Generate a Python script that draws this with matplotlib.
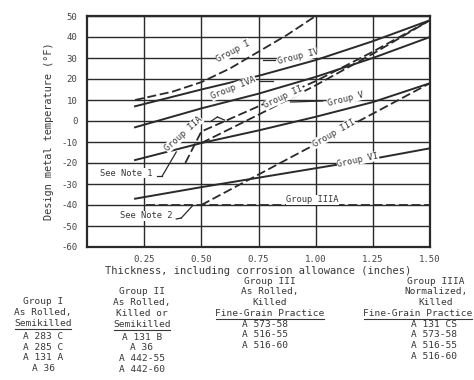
import matplotlib
matplotlib.use("Agg")
import matplotlib.pyplot as plt

# ---------------- data ----------------
x_ticks = [0.25, 0.50, 0.75, 1.00, 1.25, 1.50]
x_tick_labels = ["0.25", "0.50", "0.75", "1.00", "1.25", "1.50"]
y_ticks = [50, 40, 30, 20, 10, 0, -10, -20, -30, -40, -50, -60]

g1_x = [0.21, 0.375, 0.5, 0.625, 0.75, 0.875, 1.0]
g1_t = [10, 14, 18.5, 25, 33, 41, 50]
g4_x = [0.21, 0.5, 0.75, 1.0, 1.25, 1.5]
g4_t = [7, 15, 21.5, 29, 38, 48]
g4a_x = [0.21, 0.5, 0.75, 1.0, 1.25, 1.5]
g4a_t = [-3, 6, 13, 21, 30, 40]
g2a_x = [0.43, 0.5, 0.75, 1.0, 1.25, 1.5]
g2a_t = [-20, -5, 7, 19, 33, 48]
g2_x = [0.5, 0.75, 1.0, 1.25, 1.5]
g2_t = [-10.5, 3, 17, 32, 48]
g5_x = [0.21, 0.5, 0.75, 1.0, 1.25, 1.5]
g5_t = [-18.6, -10.5, -4.5, 2, 9, 18]
g3_x = [0.5, 0.75, 1.0, 1.25, 1.5]
g3_t = [-40, -25.5, -11, 3.5, 18]
g6_x = [0.21, 0.5, 0.75, 1.0, 1.25, 1.5]
g6_t = [-37, -31.5, -27, -22.5, -18, -13]
g3a_x = [0.26, 1.5]
g3a_t = [-40, -40]

block1_head = ["Group I", "As Rolled,", "Semikilled"]
block1_items = ["A 283 C", "A 285 C", "A 131 A", "A 36"]
block2_head = ["Group II", "As Rolled,", "Killed or", "Semikilled"]
block2_items = ["A 131 B", "A 36", "A 442-55", "A 442-60"]
block3_head = ["Group III", "As Rolled,", "Killed", "Fine-Grain Practice"]
block3_items = ["A 573-58", "A 516-55", "A 516-60"]
block4_head = ["Group IIIA", "Normalized,", "Killed", "Fine-Grain Practice"]
block4_items = ["A 131 CS", "A 573-58", "A 516-55", "A 516-60"]

FONT = "DejaVu Sans Mono"
ink = "#2a2a2a"
tcol = "#383838"

W, H = 474, 380
fig = plt.figure(figsize=(W / 100, H / 100), dpi=100)
ax = fig.add_axes([87 / W, 1 - 247 / H, (430 - 87) / W, (247 - 16) / H])
ax.set_xlim(0, 1.5)
ax.set_ylim(-60, 50)

for xv in x_ticks:
    ax.axvline(xv, color=ink, lw=1.0, zorder=1)
for yv in y_ticks:
    ax.axhline(yv, color=ink, lw=1.0, zorder=1)

solid = dict(color=ink, lw=1.4, zorder=3)
dash = dict(color=ink, lw=1.3, ls=(0, (5, 2)), zorder=3)
ax.plot(g1_x, g1_t, **dash)
ax.plot(g4_x, g4_t, **solid)
ax.plot(g4a_x, g4a_t, **solid)
ax.plot(g2a_x, g2a_t, **dash)
ax.plot(g2_x, g2_t, **dash)
ax.plot(g5_x, g5_t, **solid)
ax.plot(g3_x, g3_t, **dash)
ax.plot(g6_x, g6_t, **solid)
ax.plot(g3a_x, g3a_t, **dash)

for s in ax.spines.values():
    s.set_linewidth(1.6)
    s.set_color(ink)

ax.set_xticks(x_ticks)
ax.set_xticklabels(x_tick_labels, fontsize=6.5, family=FONT, color="#444")
ax.set_yticks(y_ticks)
ax.set_yticklabels([str(v) for v in y_ticks], fontsize=6.5, family=FONT, color="#444")
ax.tick_params(axis="x", length=0, pad=6)
ax.tick_params(axis="y", length=0, pad=7)
ax.set_xlabel("Thickness, including corrosion allowance (inches)", fontsize=7.5,
              family=FONT, color=tcol, labelpad=1)
ax.set_ylabel("Design metal temperature (°F)", fontsize=7.4, family=FONT, color=tcol,
              labelpad=5)

def px(xp, yp):
    return (xp - 87) / 228.0, (121 - yp) / 2.1

lab = dict(fontsize=6.3, family=FONT, color=tcol, ha="center", va="center", zorder=5)
def label(text, xp, yp, rot, bg=True):
    x, y = px(xp, yp)
    kw = dict(lab)
    if bg:
        kw["bbox"] = dict(fc="white", ec="none", pad=0.3)
    ax.text(x, y, text, rotation=rot, rotation_mode="anchor", **kw)

label("Group I", 233, 51, 28)
label("Group IV", 298, 57, 14)
label("Group IVA", 233, 88, 22)
label("Group II", 283, 97, 25)
label("Group IIA", 183, 134, 42)
label("Group V", 345, 99, 14)
label("Group III", 333, 133, 30)
label("Group VI", 357, 160, 12)
label("Group IIIA", 312, 200, 0)
label("See Note 1", 126, 173, 0)
label("See Note 2", 146, 216, 0)

def leader(p0, p1):
    a = px(*p0); b = px(*p1)
    ax.plot([a[0], b[0]], [a[1], b[1]], color=ink, lw=0.9, zorder=4)

leader((262, 60), (274, 60))
leader((259, 81), (272, 81))
leader((290, 102), (322, 101))
leader((157, 176), (162, 176))
leader((162, 176), (176, 152))
leader((176, 219), (181, 218))
leader((181, 218), (192, 206))
leader((211, 121), (217, 117))
leader((217, 117), (224, 120))

FS = 6.8
CW = 5.67  # approx char width in px for underline length

def block(cx, heads, ul, items, ytop, gap, item_x=None, ul_x=None):
    y = ytop
    for i, h in enumerate(heads):
        hx = cx
        if i == ul and ul_x is not None:
            hx = ul_x
        fig.text(hx / W, 1 - y / H, h, fontsize=FS, family=FONT, color=tcol,
                 ha="center", va="center")
        if i == ul:
            tw = len(h) * CW
            fig.add_artist(plt.Line2D([(hx - tw / 2) / W, (hx + tw / 2) / W],
                                      [1 - (y + 5.5) / H] * 2, color=tcol, lw=0.8))
        y += 10.7
    y += gap
    for it in items:
        if item_x is None:
            fig.text(cx / W, 1 - y / H, it, fontsize=FS, family=FONT, color=tcol,
                     ha="center", va="center")
        else:
            fig.text(item_x / W, 1 - y / H, it, fontsize=FS, family=FONT, color=tcol,
                     ha="left", va="center")
        y += 10.7

block(43, block1_head, 2, block1_items, 302, 2.5)
block(142, block2_head, 3, block2_items, 292, 2.5)
block(270, block3_head, 3, block3_items, 281, 0.3, item_x=242)
block(436, block4_head, 3, block4_items, 281, 0.3, item_x=411, ul_x=418)

fig.savefig("out.png", dpi=100)
